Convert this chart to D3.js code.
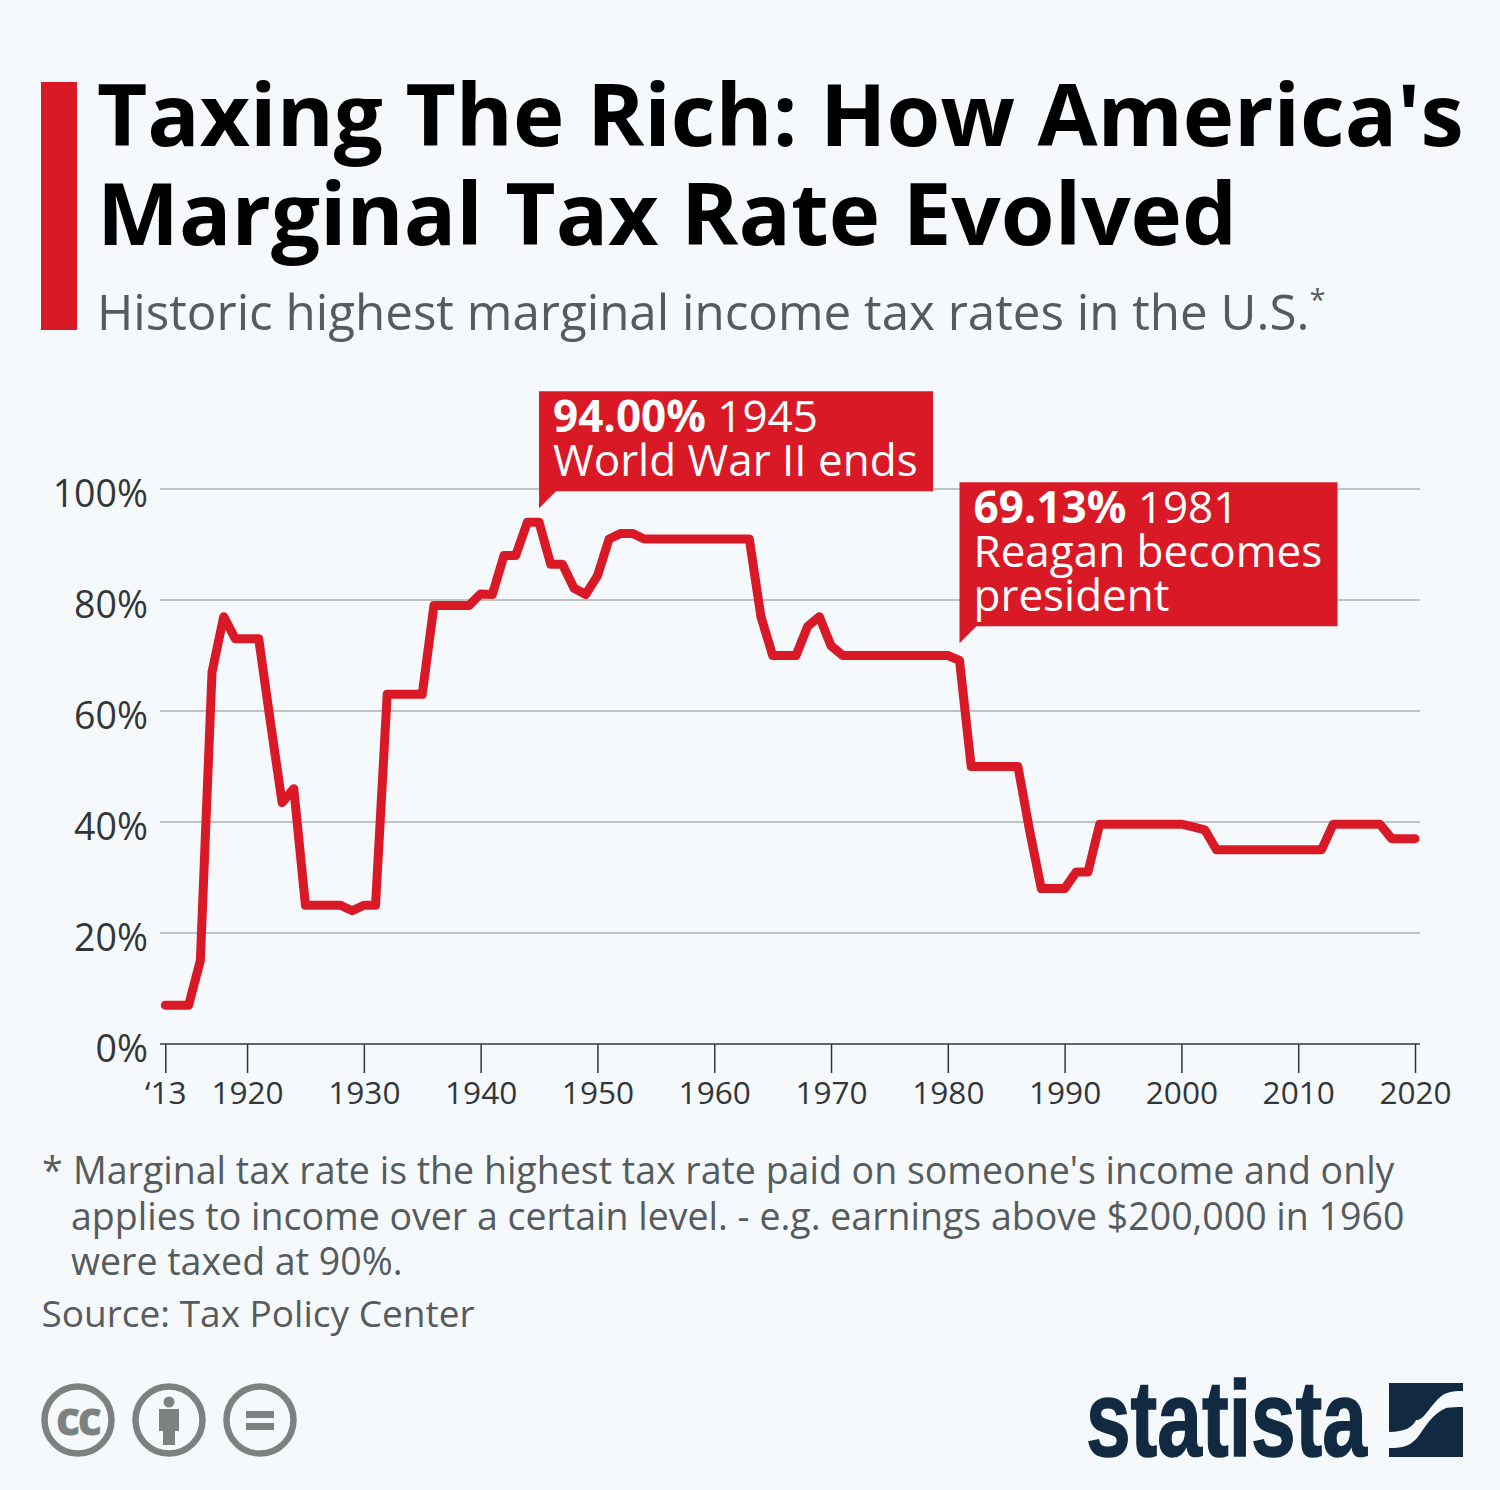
<!DOCTYPE html>
<html>
<head>
<meta charset="utf-8">
<script src="https://cdn.jsdelivr.net/npm/d3@7"></script>
<style>
  html, body { margin: 0; padding: 0; background: #f5f9fc; }
  svg { display: block; font-family: "Open Sans", sans-serif; }
</style>
</head>
<body>
<svg id="chart" width="1500" height="1490"></svg>
<script>
// top marginal rate per year, 1913-2020
const years = d3.range(1913, 2021);
const rates = [
  7, 7, 7, 15, 67, 77, 73, 73, 73, 58,
  43.5, 46, 25, 25, 25, 25, 24, 25, 25, 63,
  63, 63, 63, 79, 79, 79, 79, 81.1, 81, 88,
  88, 94, 94, 86.45, 86.45, 82.13, 81, 84.36, 91, 92,
  92, 91, 91, 91, 91, 91, 91, 91, 91, 91,
  91, 77, 70, 70, 70, 75.25, 77, 71.75, 70, 70,
  70, 70, 70, 70, 70, 70, 70, 70, 69.13, 50,
  50, 50, 50, 50, 38.5, 28, 28, 28, 31, 31,
  39.6, 39.6, 39.6, 39.6, 39.6, 39.6, 39.6, 39.6, 39.1, 38.6,
  35, 35, 35, 35, 35, 35, 35, 35, 35, 35,
  39.6, 39.6, 39.6, 39.6, 39.6, 37, 37, 37
];
const yTicks = [0, 20, 40, 60, 80, 100];
const xTicks = [1913, 1920, 1930, 1940, 1950, 1960, 1970, 1980, 1990, 2000, 2010, 2020];
const titleLines = ["Taxing The Rich: How America's", "Marginal Tax Rate Evolved"];
const subtitle = "Historic highest marginal income tax rates in the U.S.";
const footnoteLines = [
  "Marginal tax rate is the highest tax rate paid on someone's income and only",
  "applies to income over a certain level. - e.g. earnings above $200,000 in 1960",
  "were taxed at 90%."
];
const callouts = [
  { year: 1945, value: "94.00%", lines: ["World War II ends"], width: 394, gap: 14 },
  { year: 1981, value: "69.13%", lines: ["Reagan becomes", "president"], width: 378, gap: 17 }
];

const red = "#d91a26";
const navy = "#112a42";
const grey = "#565b5d";
const svg = d3.select("#chart");

svg.append("rect").attr("width", 1500).attr("height", 1490).attr("fill", "#f5f9fc");

// header
svg.append("rect").attr("x", 41).attr("y", 82).attr("width", 36).attr("height", 248).attr("fill", red);
svg.selectAll(".title").data(titleLines).join("text")
  .attr("class", "title")
  .attr("x", 97)
  .attr("y", (d, i) => 146 + i * 99)
  .attr("font-size", 86.95)
  .attr("font-weight", 700)
  .attr("fill", "#000")
  .text(d => d);
const sub = svg.append("text")
  .attr("x", 97).attr("y", 330)
  .attr("font-size", 49.3)
  .attr("fill", grey)
  .text(subtitle);
sub.append("tspan").attr("font-size", 29).attr("dy", -20).text("*");

// scales
const x = d3.scaleLinear().domain([1913, 2020]).range([165.3, 1415]);
const y = d3.scaleLinear().domain([0, 100]).range([1044, 489]);

// grid + y labels
svg.selectAll(".grid").data(yTicks.filter(d => d > 0)).join("line")
  .attr("class", "grid")
  .attr("x1", 160).attr("x2", 1420)
  .attr("y1", d => y(d)).attr("y2", d => y(d))
  .attr("stroke", "#adb0b2").attr("stroke-width", 1.5);

const yAxis = svg.append("g")
  .attr("transform", "translate(148,5)")
  .call(d3.axisLeft(y).tickValues(yTicks).tickSize(0).tickPadding(0).tickFormat(d => d + "%"));
yAxis.select(".domain").remove();
yAxis.selectAll("text")
  .attr("font-family", "'Open Sans', sans-serif")
  .attr("font-size", 37.5)
  .attr("fill", "#333638");

// x axis
const xAxis = svg.append("g")
  .attr("transform", "translate(0,1044)")
  .call(d3.axisBottom(x).tickValues(xTicks).tickSize(29).tickPadding(9)
    .tickFormat(d => d === 1913 ? "‘13" : String(d)));
xAxis.select(".domain").attr("d", "M160,0H1420").attr("stroke", "#333638").attr("stroke-width", 1.5);
xAxis.selectAll("line").attr("stroke", "#333638").attr("stroke-width", 1.5);
xAxis.selectAll("text")
  .attr("font-family", "'Open Sans', sans-serif")
  .attr("font-size", 31.6)
  .attr("fill", "#333638");

// rate line
const line = d3.line().x((d, i) => x(years[i])).y(d => y(d));
svg.append("path")
  .datum(rates)
  .attr("d", line)
  .attr("fill", "none")
  .attr("stroke", red)
  .attr("stroke-width", 9)
  .attr("stroke-linejoin", "round")
  .attr("stroke-linecap", "round");

// callouts: box top-left sits on the year, with a small tail under it
const callout = svg.selectAll(".callout").data(callouts).join("g")
  .attr("class", "callout")
  .attr("transform", d => `translate(${x(d.year)},${y(rates[years.indexOf(d.year)])})`);
callout.each(function (d) {
  const g = d3.select(this);
  const boxH = 56 + d.lines.length * 44;
  const top = -d.gap - 17 - boxH;
  g.append("path")
    .attr("fill", red)
    .attr("d", `M0,${top}h${d.width}v${boxH}H17L0,${top + boxH + 17}Z`);
  const label = g.append("text").attr("x", 14).attr("fill", "#fff").attr("font-size", 44);
  const first = label.append("tspan").attr("y", top + 41);
  first.append("tspan").attr("font-weight", 700).text(d.value);
  first.append("tspan").text(" " + d.year);
  d.lines.forEach((t, i) => {
    label.append("tspan").attr("x", 14).attr("y", top + 85 + i * 44).text(t);
  });
});

// footnote + source
svg.append("text")
  .attr("x", 42).attr("y", 1184)
  .attr("font-size", 37.5).attr("fill", grey).text("*");
svg.selectAll(".note").data(footnoteLines).join("text")
  .attr("class", "note")
  .attr("x", (d, i) => i === 0 ? 73 : 71)
  .attr("y", (d, i) => 1184 + i * 45.5)
  .attr("font-size", 37.5)
  .attr("fill", grey)
  .text(d => d);
svg.append("text")
  .attr("x", 41.5).attr("y", 1327)
  .attr("font-size", 37).attr("fill", grey)
  .text("Source: Tax Policy Center");

// licence badges
const badgeGrey = "#7d8280";
const badges = svg.selectAll(".badge").data(["cc", "by", "eq"]).join("g")
  .attr("class", "badge")
  .attr("transform", (d, i) => `translate(${78 + i * 91},1420)`);
badges.append("circle").attr("r", 33.5).attr("fill", "none").attr("stroke", badgeGrey).attr("stroke-width", 6.5);
badges.filter(d => d === "cc").append("text")
  .attr("text-anchor", "middle").attr("y", 15)
  .attr("font-size", 46).attr("font-weight", 700).attr("letter-spacing", -2)
  .attr("fill", badgeGrey).attr("stroke", badgeGrey).attr("stroke-width", 1).text("cc");
const by = badges.filter(d => d === "by");
by.append("circle").attr("cy", -18).attr("r", 5.5).attr("fill", badgeGrey);
by.append("path").attr("fill", badgeGrey).attr("d", "M-10,-11H10V11H6V25H-6V11H-10Z");
const eq = badges.filter(d => d === "eq");
eq.append("rect").attr("x", -14).attr("y", -9).attr("width", 28).attr("height", 7).attr("fill", badgeGrey);
eq.append("rect").attr("x", -14).attr("y", 3).attr("width", 28).attr("height", 7).attr("fill", badgeGrey);

// statista logo, squeezed to the wordmark width
const word = svg.append("text")
  .attr("font-family", "'Liberation Sans', sans-serif")
  .attr("font-size", 107)
  .attr("font-weight", 700)
  .attr("fill", navy)
  .attr("stroke", navy)
  .attr("stroke-width", 1.5)
  .text("statista");
word.attr("transform", `translate(1086,1456) scale(${281 / word.node().getComputedTextLength()},1)`);
const logo = svg.append("g").attr("transform", "translate(1389,1383)");
logo.append("path").attr("fill", navy).attr("d", "M0,0H74V8C62,8 56,9 49,16C40,25 34,38 27,37C24,44 16,49 0,49Z");
logo.append("path").attr("fill", navy).attr("d", "M74,24V74H0V65C12,65 18,64 25,58C33,52 38,34 57,25C62,24 68,24 74,24Z");
</script>
</body>
</html>
